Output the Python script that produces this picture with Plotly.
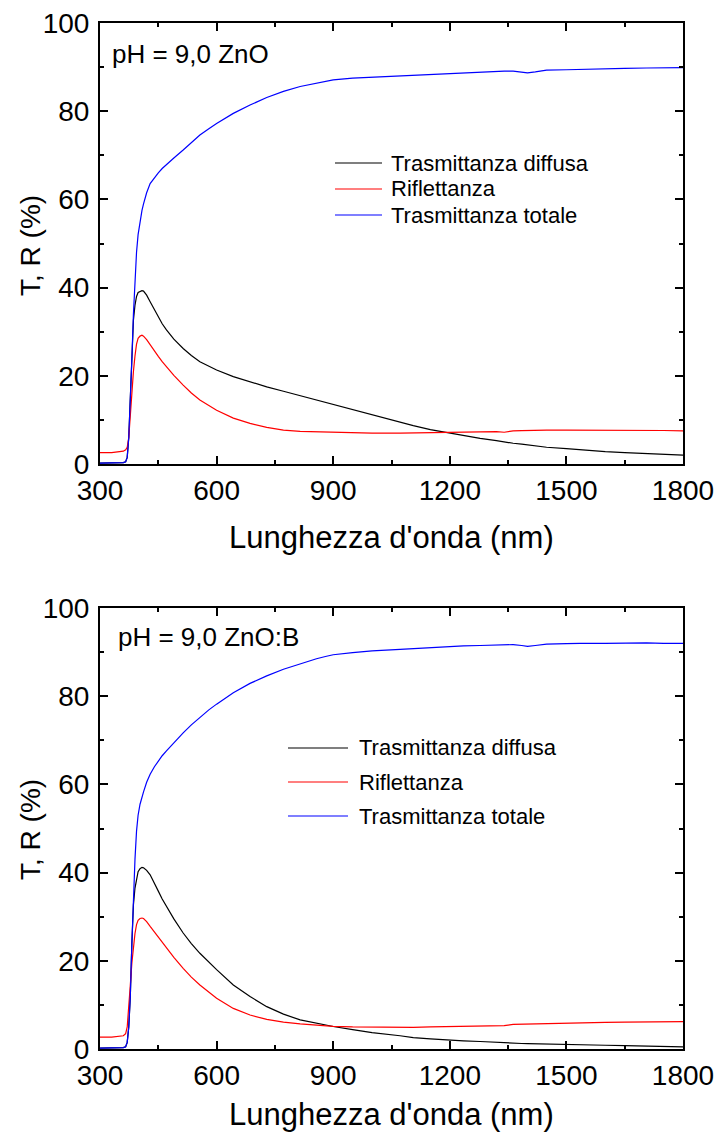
import plotly.graph_objects as go

# ---------------- data ----------------
wavelength = [300, 330, 360, 366, 370, 374, 378, 382, 386, 390, 394, 398, 403, 408, 412, 420, 429, 440, 450, 460,
              471, 490, 514, 535, 557, 580, 600, 643, 686, 729, 772, 815, 857, 880, 900, 950, 1000, 1072, 1106, 1150,
              1192, 1235, 1278, 1320, 1340, 1363, 1385, 1400, 1420, 1449, 1500, 1535, 1600, 1650, 1706, 1750, 1800]

# Panel 1: pH = 9,0 ZnO
zno_t_tot = [0.2, 0.2, 0.3, 0.5, 1.5, 6, 14, 24, 34, 42, 48, 52, 55, 57.5, 59, 61.5, 63.6, 65, 66, 67,
             67.8, 69.4, 71.2, 72.9, 74.6, 76, 77.2, 79.5, 81.4, 83.1, 84.5, 85.6, 86.4, 86.8, 87.1, 87.5, 87.7, 88.1, 88.2, 88.4,
             88.6, 88.8, 88.9, 89.0, 89.1, 89.1, 88.9, 88.7, 88.9, 89.3, 89.4, 89.5, 89.6, 89.7, 89.8, 89.85, 89.9]
zno_t_diff = [0.2, 0.2, 0.3, 0.5, 1.5, 6, 14, 24, 32.6, 36, 38, 38.9, 39.2, 39.3, 39.2, 38.3, 36.8, 35, 33.4, 31.8,
              30.4, 28.3, 26.2, 24.6, 23.2, 22.2, 21.3, 19.8, 18.6, 17.5, 16.5, 15.5, 14.5, 14.0, 13.4, 12.3, 11.1, 9.5, 8.7, 7.8,
              7.1, 6.4, 5.8, 5.3, 5.0, 4.7, 4.5, 4.3, 4.1, 3.8, 3.5, 3.2, 2.8, 2.6, 2.4, 2.2, 2.0]
zno_r = [2.6, 2.6, 2.9, 3.2, 3.8, 6, 11, 16.5, 21, 24.5, 27.2, 28.5, 29.0, 29.2, 29.0, 28.2, 27, 25.6, 24.4, 23.2,
         22, 20.1, 17.9, 16.1, 14.5, 13.2, 12.2, 10.4, 9.2, 8.3, 7.7, 7.4, 7.3, 7.2, 7.2, 7.1, 7.0, 7.0, 7.05, 7.1,
         7.1, 7.2, 7.3, 7.35, 7.2, 7.5, 7.55, 7.6, 7.6, 7.7, 7.7, 7.7, 7.7, 7.7, 7.65, 7.6, 7.5]

# Panel 2: pH = 9,0 ZnO:B
znob_t_tot = [0.2, 0.2, 0.3, 0.5, 1.5, 5, 12, 24, 35, 43, 49.4, 53, 55.5, 57.2, 58.3, 60.5, 62.3, 64, 65.3, 66.5,
              67.6, 69.5, 71.7, 73.5, 75.2, 76.9, 78.2, 80.8, 82.9, 84.6, 86.1, 87.4, 88.5, 89.0, 89.4, 89.9, 90.3, 90.6, 90.8, 91.0,
              91.2, 91.4, 91.5, 91.6, 91.65, 91.7, 91.5, 91.3, 91.5, 91.8, 91.9, 92.0, 92.0, 92.1, 92.1, 92.0, 92.0]
znob_t_diff = [0.2, 0.2, 0.3, 0.5, 1.5, 5, 12, 24, 32.7, 36.5, 38.8, 40.2, 40.9, 41.2, 41.1, 40.5, 39.5, 37.7, 35.8, 34,
               32.3, 29.5, 26.3, 23.9, 21.7, 19.7, 18, 14.5, 11.9, 9.6, 7.9, 6.6, 5.8, 5.4, 5.1, 4.4, 3.7, 3.0, 2.6, 2.3,
               2.0, 1.85, 1.7, 1.5, 1.3, 1.3, 1.25, 1.2, 1.15, 1.1, 1.0, 0.95, 0.85, 0.75, 0.7, 0.6, 0.5]
znob_r = [2.7, 2.7, 3.0, 3.5, 5, 9, 14.5, 19.5, 23.6, 26.2, 28.2, 29.2, 29.6, 29.7, 29.6, 28.9, 27.8, 26.5, 25.3, 24.1,
          22.9, 20.8, 18.3, 16.3, 14.5, 12.9, 11.5, 9.2, 7.7, 6.7, 6.1, 5.7, 5.4, 5.3, 5.15, 5.0, 4.95, 4.9, 4.9, 5.0,
          5.1, 5.2, 5.3, 5.4, 5.3, 5.6, 5.65, 5.7, 5.75, 5.8, 5.9, 6.0, 6.05, 6.1, 6.2, 6.2, 6.2]

series_names = ["Trasmittanza diffusa", "Riflettanza", "Trasmittanza totale"]
series_colors = ["#000000", "#ff0000", "#0000ff"]
panel_labels = ["pH = 9,0 ZnO", "pH = 9,0 ZnO:B"]
x_title = "Lunghezza d'onda (nm)"
y_title = "T, R (%)"
x_ticks = [300, 600, 900, 1200, 1500, 1800]
y_ticks = [0, 20, 40, 60, 80, 100]

# ---------------- figure ----------------
W, H = 718, 1135
FONT = "Arial, 'Liberation Sans', sans-serif"

fig = go.Figure()

panels = [
    (zno_t_diff, zno_r, zno_t_tot, "x", "y"),
    (znob_t_diff, znob_r, znob_t_tot, "x2", "y2"),
]
for (d, r, t, xa, ya) in panels:
    for vals, name, col in zip([d, r, t], series_names, series_colors):
        fig.add_trace(go.Scatter(
            x=wavelength, y=vals, mode="lines", name=name,
            line=dict(color=col, width=1.2), xaxis=xa, yaxis=ya, showlegend=False,
        ))

def px_x(p):
    return p / W

def px_y(p):
    return 1 - p / H

def axis_common(standoff):
    return dict(
        showline=True, linecolor="black", linewidth=2, mirror="ticks",
        ticks="inside", ticklen=8, tickwidth=1.5, tickcolor="black",
        showgrid=False, zeroline=False,
        tickfont=dict(family=FONT, size=28, color="black"),
        automargin=False, ticklabelstandoff=standoff,
        minor=dict(ticks="inside", ticklen=4, tickwidth=1.5, tickcolor="black", showgrid=False),
    )

xdom = [px_x(100), px_x(683)]
fig.update_layout(
    width=W, height=H,
    margin=dict(l=0, r=0, t=0, b=0),
    paper_bgcolor="white", plot_bgcolor="white",
    font=dict(family=FONT, color="black"),
    showlegend=False,
    xaxis=dict(domain=xdom, anchor="y", range=[300, 1800], tickvals=x_ticks,
               minor_dtick=150, minor_tick0=300, **axis_common(0)),
    yaxis=dict(domain=[px_y(464), px_y(23)], anchor="x", range=[0, 100], tickvals=y_ticks,
               minor_dtick=10, minor_tick0=0, **axis_common(3)),
    xaxis2=dict(domain=xdom, anchor="y2", range=[300, 1800], tickvals=x_ticks,
                minor_dtick=150, minor_tick0=300, **axis_common(0)),
    yaxis2=dict(domain=[px_y(1049), px_y(608)], anchor="x2", range=[0, 100], tickvals=y_ticks,
                minor_dtick=10, minor_tick0=0, **axis_common(3)),
)

annotations = [
    dict(text=panel_labels[0], x=px_x(110), y=px_y(54), xref="paper", yref="paper",
         xanchor="left", yanchor="middle", showarrow=False, font=dict(family=FONT, size=26)),
    dict(text=panel_labels[1], x=px_x(116), y=px_y(637), xref="paper", yref="paper",
         xanchor="left", yanchor="middle", showarrow=False, font=dict(family=FONT, size=26)),
    dict(text=y_title, x=px_x(30), y=px_y(246), xref="paper", yref="paper", textangle=-90,
         xanchor="center", yanchor="middle", showarrow=False, font=dict(family=FONT, size=28)),
    dict(text=y_title, x=px_x(30), y=px_y(830), xref="paper", yref="paper", textangle=-90,
         xanchor="center", yanchor="middle", showarrow=False, font=dict(family=FONT, size=28)),
    dict(text=x_title, x=px_x(391), y=px_y(537), xref="paper", yref="paper",
         xanchor="center", yanchor="middle", showarrow=False, font=dict(family=FONT, size=31)),
    dict(text=x_title, x=px_x(391), y=px_y(1114), xref="paper", yref="paper",
         xanchor="center", yanchor="middle", showarrow=False, font=dict(family=FONT, size=31)),
]

# legends (line sample + label), one block per panel
shapes = []
legend_blocks = [
    dict(x0=335, x1=382, xt=389, rows=[163, 189, 215]),
    dict(x0=288, x1=348, xt=357, rows=[748, 782, 816]),
]
for blk in legend_blocks:
    for name, col, yr in zip(series_names, series_colors, blk["rows"]):
        shapes.append(dict(type="line", xref="paper", yref="paper",
                           x0=px_x(blk["x0"]), x1=px_x(blk["x1"]), y0=px_y(yr), y1=px_y(yr),
                           line=dict(color=col, width=1.2)))
        annotations.append(dict(text=name, x=px_x(blk["xt"]), y=px_y(yr), xref="paper", yref="paper",
                                xanchor="left", yanchor="middle", showarrow=False,
                                font=dict(family=FONT, size=22, color="black")))

fig.update_layout(annotations=annotations, shapes=shapes)

fig.write_html("out.html")
